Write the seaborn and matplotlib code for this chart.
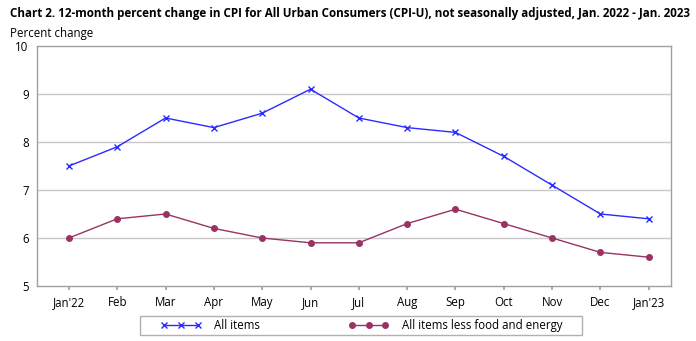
import matplotlib
matplotlib.use("Agg")
import matplotlib.pyplot as plt
from matplotlib.patches import Rectangle
import seaborn as sns
import pandas as pd

months = ["Jan'22", "Feb", "Mar", "Apr", "May", "Jun", "Jul", "Aug", "Sep", "Oct", "Nov", "Dec", "Jan'23"]
all_items = [7.5, 7.9, 8.5, 8.3, 8.6, 9.1, 8.5, 8.3, 8.2, 7.7, 7.1, 6.5, 6.4]
core = [6.0, 6.4, 6.5, 6.2, 6.0, 5.9, 5.9, 6.3, 6.6, 6.3, 6.0, 5.7, 5.6]
yticks = [5, 6, 7, 8, 9, 10]

sns.set_theme(style="white")
plt.rcParams['font.family'] = ['Open Sans', 'DejaVu Sans']
plt.rcParams['text.color'] = 'black'
plt.rcParams['xtick.color'] = 'black'
plt.rcParams['ytick.color'] = 'black'

df = pd.DataFrame({"x": list(range(len(months))) * 2,
                   "value": all_items + core,
                   "series": ["All items"] * len(months) + ["All items less food and energy"] * len(months)})

W, H = 696, 341
fig = plt.figure(figsize=(6.96, 3.41), dpi=100)
ax = fig.add_axes([37/W, 1 - 286/H, (671-37)/W, (286-46)/H])

palette = {"All items": "#2b2bff", "All items less food and energy": "#993366"}
markers = {"All items": "x", "All items less food and energy": "o"}
for name, sub in df.groupby("series", sort=False):
    c = palette[name]
    sns.lineplot(data=sub, x="x", y="value", ax=ax, color=c,
                 marker=markers[name], markersize=5 if name == "All items" else 4,
                 markeredgewidth=1, markeredgecolor=c, markerfacecolor=c,
                 linewidth=1, label=name)

ax.set_xlim(-0.66, 12.46)
ax.set_ylim(5, 10)
ax.set_xticks(range(len(months)))
ax.set_xticklabels(months, fontsize=8.3)
ax.set_yticks(yticks)
ax.set_yticklabels([str(v) for v in yticks], fontsize=8.3)
ax.set_xlabel("")
ax.set_ylabel("")
for v in [6, 7, 8, 9]:
    ax.axhline(v, color="#c8c8c8", linewidth=1, zorder=0)
for s in ax.spines.values():
    s.set_color("#a0a0a0")
    s.set_linewidth(1)
ax.tick_params(axis="x", length=3, color="#a0a0a0", pad=4, bottom=True)
ax.tick_params(axis="y", length=0, pad=6)

leg = ax.legend(loc="center", bbox_to_anchor=(361.5/W, 1 - 325.5/H), bbox_transform=fig.transFigure,
                ncol=2, frameon=False,
                fontsize=8.3, handlelength=3.5, numpoints=3, handletextpad=1.1,
                columnspacing=7.7, borderpad=0.2, borderaxespad=0)
fig.patches.append(Rectangle((140/W, 1 - 335/H), (582-140)/W, (335-316)/H,
                             transform=fig.transFigure, fill=False,
                             edgecolor="#b0b0b0", linewidth=1))

fig.text(10/W, 1 - 13/H, "Chart 2. 12-month percent change in CPI for All Urban Consumers (CPI-U), not seasonally adjusted, Jan. 2022 - Jan. 2023",
         fontsize=8.4, fontweight="bold", va="center", ha="left", color="black")
fig.text(10/W, 1 - 33/H, "Percent change", fontsize=8.3, va="center", ha="left", color="black")

fig.savefig("out.png", dpi=100)
